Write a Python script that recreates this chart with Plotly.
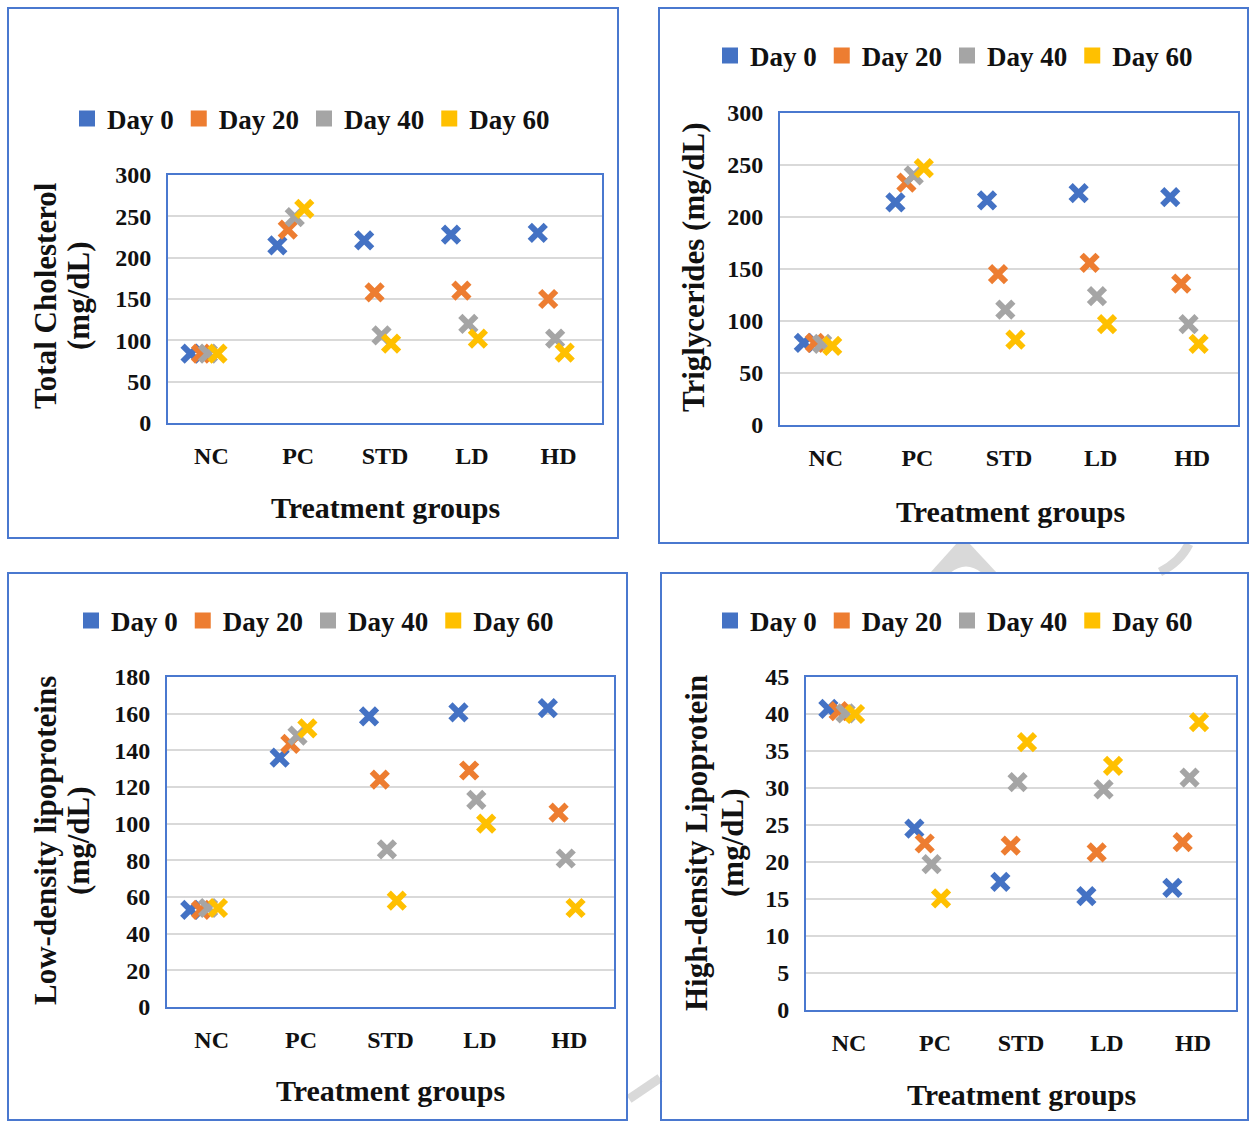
import plotly.graph_objects as go

# ---------------- data ----------------
categories = ["NC", "PC", "STD", "LD", "HD"]
series_names = ["Day 0", "Day 20", "Day 40", "Day 60"]

tc_day0 = [84, 215, 221, 228, 230]
tc_day20 = [84, 234, 158, 160, 150]
tc_day40 = [84, 249, 106, 120, 102]
tc_day60 = [84, 259, 96, 102, 85]

tg_day0 = [79, 214, 216, 223, 219]
tg_day20 = [79, 233, 145, 156, 136]
tg_day40 = [78, 240, 111, 124, 97]
tg_day60 = [76, 247, 82, 97, 78]

ldl_day0 = [53, 136, 158.5, 160.7, 163]
ldl_day20 = [53, 143.5, 124, 129, 106]
ldl_day40 = [54, 148, 86, 113, 81]
ldl_day60 = [54, 152, 58, 100, 54]

hdl_day0 = [40.7, 24.5, 17.3, 15.4, 16.5]
hdl_day20 = [40.4, 22.5, 22.2, 21.3, 22.7]
hdl_day40 = [40.1, 19.7, 30.8, 29.8, 31.4]
hdl_day60 = [40.0, 15.1, 36.2, 33.0, 38.9]

tc_ticks = [0, 50, 100, 150, 200, 250, 300]
tg_ticks = [0, 50, 100, 150, 200, 250, 300]
ldl_ticks = [0, 20, 40, 60, 80, 100, 120, 140, 160, 180]
hdl_ticks = [0, 5, 10, 15, 20, 25, 30, 35, 40, 45]

# ---------------- style ----------------
W, H = 1249, 1121
colors = ["#4472C4", "#ED7D31", "#A5A5A5", "#FFC000"]
offsets = [-0.24, -0.12, -0.04, 0.07]   # horizontal spread of the series within a group
BORDER = "#4A78CF"
GRID = "#D9D9D9"
FAM = "Liberation Serif"
TXT = "#111111"


def fx(p):
    return p / W


def fy(p):
    return 1 - p / H


panels = [
    dict(series=[tc_day0, tc_day20, tc_day40, tc_day60], ticks=tc_ticks,
         xdom=(168, 602), ydom=(175, 423),
         legend=(67, 119),
         ytitle=[("Total Cholesterol", 45), ("(mg/dL)", 78)], ytitle_y=296,
         xtitle=(385, 507)),
    dict(series=[tg_day0, tg_day20, tg_day40, tg_day60], ticks=tg_ticks,
         xdom=(780, 1238), ydom=(113, 425),
         legend=(710, 56),
         ytitle=[("Triglycerides (mg/dL)", 694)], ytitle_y=267,
         xtitle=(1010, 511)),
    dict(series=[ldl_day0, ldl_day20, ldl_day40, ldl_day60], ticks=ldl_ticks,
         xdom=(167, 614), ydom=(677, 1007),
         legend=(71, 621),
         ytitle=[("Low-density lipoproteins", 45), ("(mg/dL)", 78)], ytitle_y=841,
         xtitle=(390, 1090)),
    dict(series=[hdl_day0, hdl_day20, hdl_day40, hdl_day60], ticks=hdl_ticks,
         xdom=(806, 1236), ydom=(677, 1010),
         legend=(710, 621),
         ytitle=[("High-density Lipoprotein", 697), ("(mg/dL)", 733)], ytitle_y=843,
         xtitle=(1021, 1094)),
]

outer_boxes = [(8, 8, 618, 538), (659, 8, 1248, 543), (8, 573, 627, 1120), (661, 573, 1248, 1120)]

fig = go.Figure()
layout = dict(width=W, height=H, margin=dict(l=0, r=0, t=0, b=0, autoexpand=False),
              paper_bgcolor="white", plot_bgcolor="white",
              font=dict(family=FAM, color=TXT, weight="bold"))
annotations = []
shapes = []

# faint watermark fragments visible in the gaps between panels
shapes.append(dict(type="path", xref="paper", yref="paper", layer="below",
                   path=f"M {fx(930)} {fy(573)} L {fx(957)} {fy(543)} L {fx(969)} {fy(543)} L {fx(997)} {fy(573)} Z",
                   fillcolor=GRID, line=dict(width=0)))
shapes.append(dict(type="path", xref="paper", yref="paper", layer="below",
                   path=f"M {fx(950)} {fy(573)} Q {fx(966)} {fy(560)} {fx(982)} {fy(573)} Z",
                   fillcolor="white", line=dict(width=0)))
shapes.append(dict(type="path", xref="paper", yref="paper", layer="below",
                   path=f"M {fx(1160)} {fy(572)} Q {fx(1180)} {fy(562)} {fx(1189)} {fy(544)}",
                   line=dict(color=GRID, width=9)))
shapes.append(dict(type="line", xref="paper", yref="paper", layer="below",
                   x0=fx(629), y0=fy(1099), x1=fx(660), y1=fy(1078),
                   line=dict(color=GRID, width=9)))

for (x0, y0, x1, y1) in outer_boxes:
    shapes.append(dict(type="rect", xref="paper", yref="paper",
                       x0=fx(x0), y0=fy(y0), x1=fx(x1), y1=fy(y1),
                       line=dict(color=BORDER, width=2)))

for k, p in enumerate(panels):
    n = "" if k == 0 else str(k + 1)
    xa, ya = "x" + n, "y" + n
    leg = "legend" + n
    for s, (vals, name, col, off) in enumerate(zip(p["series"], series_names, colors, offsets)):
        fig.add_trace(go.Scatter(
            x=[i + 1 + off for i in range(len(categories))], y=vals,
            mode="markers", name=name, showlegend=False,
            xaxis=xa, yaxis=ya,
            marker=dict(symbol="x-thin", size=16, color=col,
                        line=dict(color=col, width=6)),
            hoverinfo="y+name"))
        fig.add_trace(go.Scatter(
            x=[None], y=[None], mode="markers", name=name, legend=leg,
            xaxis=xa, yaxis=ya, showlegend=True,
            marker=dict(symbol="square", size=16, color=col)))

    layout["xaxis" + n] = dict(
        domain=[fx(p["xdom"][0]), fx(p["xdom"][1])], anchor=ya,
        range=[0.5, 5.5], tickvals=[1, 2, 3, 4, 5], ticktext=categories,
        showgrid=False, zeroline=False, ticks="", automargin=False,
        showline=True, mirror=True, linecolor=BORDER, linewidth=2,
        tickfont=dict(family=FAM, size=24, color=TXT, weight="bold"),
        ticklabelstandoff=10)
    layout["yaxis" + n] = dict(
        domain=[fy(p["ydom"][1]), fy(p["ydom"][0])], anchor=xa,
        range=[p["ticks"][0], p["ticks"][-1]], tickvals=p["ticks"],
        showgrid=True, gridcolor=GRID, gridwidth=2, zeroline=False, ticks="",
        automargin=False,
        showline=True, mirror=True, linecolor=BORDER, linewidth=2,
        tickfont=dict(family=FAM, size=24, color=TXT, weight="bold"),
        ticklabelstandoff=10)
    layout[leg] = dict(
        orientation="h", x=fx(p["legend"][0]), y=fy(p["legend"][1]),
        xanchor="left", yanchor="middle", bgcolor="rgba(0,0,0,0)",
        font=dict(family=FAM, size=27, color=TXT, weight="bold"),
        itemwidth=30, tracegroupgap=0)

    for text, xp in p["ytitle"]:
        annotations.append(dict(
            text=text, xref="paper", yref="paper", x=fx(xp), y=fy(p["ytitle_y"]),
            xanchor="center", yanchor="middle", textangle=-90, showarrow=False,
            font=dict(family=FAM, size=31, color=TXT, weight="bold")))
    annotations.append(dict(
        text="Treatment groups", xref="paper", yref="paper",
        x=fx(p["xtitle"][0]), y=fy(p["xtitle"][1]),
        xanchor="center", yanchor="middle", showarrow=False,
        font=dict(family=FAM, size=30, color=TXT, weight="bold")))

layout["annotations"] = annotations
layout["shapes"] = shapes
fig.update_layout(**layout)
fig.write_html("out.html", config={"displayModeBar": False},
               post_script="document.body.style.margin='0';document.body.style.overflow='hidden';")
